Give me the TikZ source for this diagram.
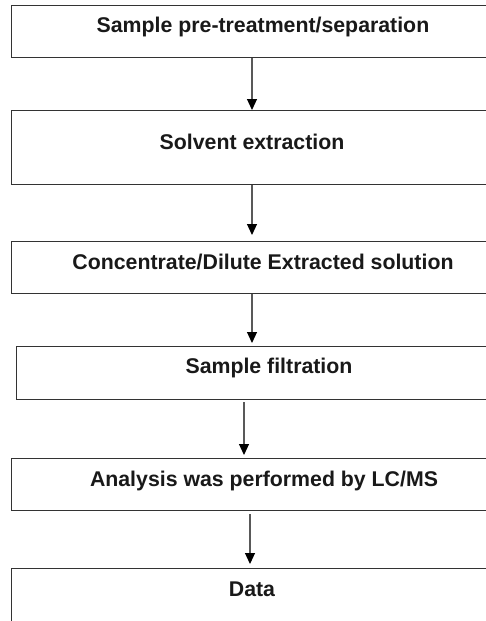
\documentclass[tikz,border=0pt]{standalone}
\usepackage{fontspec}
\setmainfont{Liberation Sans}
\usetikzlibrary{arrows.meta}
\begin{document}
\begin{tikzpicture}[x=1pt,y=-1pt,
  box/.style={draw=black!80,line width=1.3pt,rectangle,inner sep=0pt,anchor=north west},
  lbl/.style={font=\fontsize{21.3}{24}\selectfont\bfseries,anchor=base,inner sep=0pt,text=black!90},
  arr/.style={draw=black!65,line width=1.1pt,-{Triangle[width=10pt,length=11pt,fill=black,color=black]}}]
\useasboundingbox (0,0) rectangle (486,621);
\fill[white] (0,0) rectangle (486,621);
\clip (0,0) rectangle (486,621);
% boxes
\node[box,minimum width=504pt,minimum height=52pt] (b1) at (11,5) {};
\node[box,minimum width=504pt,minimum height=74pt] (b2) at (11,110) {};
\node[box,minimum width=504pt,minimum height=52pt] (b3) at (11,241) {};
\node[box,minimum width=506pt,minimum height=53pt] (b4) at (16,346) {};
\node[box,minimum width=506pt,minimum height=52pt] (b5) at (11,458) {};
\node[box,minimum width=484pt,minimum height=80pt] (b6) at (11,568) {};
% labels
\node[lbl] (t1) at (263,32) {Sample pre-treatment/separation};
\node[lbl] (t2) at (252,149) {Solvent extraction};
\node[lbl] (t3) at (263,269) {Concentrate/Dilute Extracted solution};
\node[lbl] (t4) at (269,373) {Sample filtration};
\node[lbl] (t5) at (264,486) {Analysis was performed by LC/MS};
\node[lbl] (t6) at (252,596) {Data};
% arrow columns
\coordinate (x1) at (252,0);
\coordinate (x2) at (252,0);
\coordinate (x3) at (252,0);
\coordinate (x4) at (244,0);
\coordinate (x5) at (250,0);
\draw[arr] (b1.south -| x1) -- (b2.north -| x1);
\draw[arr,shorten >=6pt] (b2.south -| x2) -- (b3.north -| x2);
\draw[arr,shorten >=3pt] (b3.south -| x3) -- (b4.north -| x3);
\draw[arr,shorten <=2pt,shorten >=3pt] (b4.south -| x4) -- (b5.north -| x4);
\draw[arr,shorten <=3pt,shorten >=4pt] (b5.south -| x5) -- (b6.north -| x5);
\end{tikzpicture}
\end{document}
